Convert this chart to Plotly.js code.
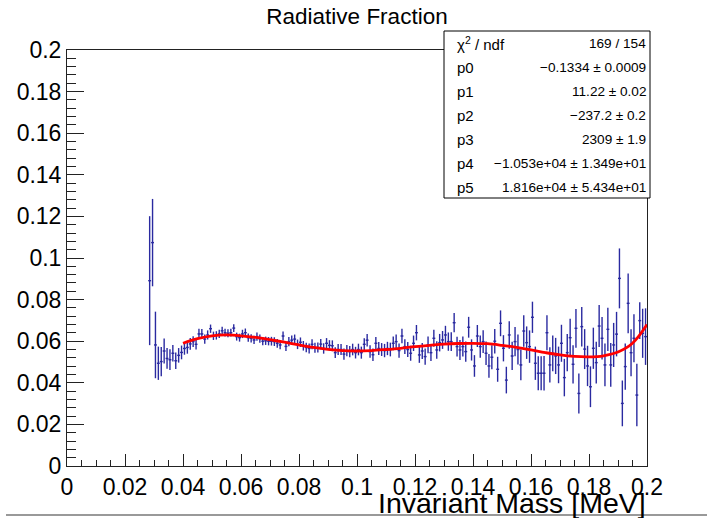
<!DOCTYPE html>
<html>
<head>
<meta charset="utf-8">
<script src="https://cdn.plot.ly/plotly-3.0.1.min.js"></script>
<style>html,body{margin:0;padding:0;background:#fff;}#chart{width:707px;height:518px;}</style>
</head>
<body>
<div id="chart"></div>
<script>
// Histogram bins: first bin centre and bin width (MeV)
const binStart = 0.0285;
const binWidth = 0.001;

// Radiative fraction per bin
const fracValues = [
  0.0891, 0.1074, 0.0582, 0.0494, 0.0502, 0.0553, 0.0517, 0.0511, 0.0542, 0.0506,
  0.0532, 0.0546, 0.0565, 0.0570, 0.0587, 0.0598, 0.0585, 0.0635, 0.0635, 0.0610,
  0.0630, 0.0660, 0.0626, 0.0628, 0.0635, 0.0650, 0.0641, 0.0638, 0.0641, 0.0663,
  0.0622, 0.0617, 0.0635, 0.0641, 0.0617, 0.0614, 0.0606, 0.0622, 0.0612, 0.0600,
  0.0602, 0.0600, 0.0600, 0.0598, 0.0590, 0.0582, 0.0625, 0.0575, 0.0598, 0.0605,
  0.0610, 0.0585, 0.0595, 0.0578, 0.0570, 0.0565, 0.0585, 0.0568, 0.0570, 0.0586,
  0.0565, 0.0590, 0.0580, 0.0578, 0.0545, 0.0560, 0.0560, 0.0538, 0.0555, 0.0550,
  0.0560, 0.0545, 0.0560, 0.0545, 0.0585, 0.0605, 0.0550, 0.0535, 0.0590, 0.0565,
  0.0560, 0.0555, 0.0565, 0.0560, 0.0590, 0.0598, 0.0555, 0.0625, 0.0574, 0.0560,
  0.0542, 0.0590, 0.0641, 0.0534, 0.0553, 0.0526, 0.0582, 0.0545, 0.0614, 0.0558,
  0.0593, 0.0606, 0.0630, 0.0598, 0.0598, 0.0689, 0.0574, 0.0558, 0.0574, 0.0550,
  0.0667, 0.0558, 0.0481, 0.0625, 0.0574, 0.0598, 0.0542, 0.0481, 0.0523, 0.0600,
  0.0465, 0.0686, 0.0566, 0.0413, 0.0630, 0.0529, 0.0598, 0.0560, 0.0486, 0.0649,
  0.0593, 0.0574, 0.0715, 0.0494, 0.0446, 0.0446, 0.0446, 0.0641, 0.0486, 0.0542,
  0.0529, 0.0486, 0.0590, 0.0425, 0.0545, 0.0617, 0.0489, 0.0662, 0.0349, 0.0670,
  0.0562, 0.0481, 0.0381, 0.0566, 0.0497, 0.0673, 0.0614, 0.0486, 0.0657, 0.0486,
  0.0582, 0.0634, 0.0902, 0.0301, 0.0478, 0.0782, 0.0545, 0.0614, 0.0341, 0.0699,
  0.0638, 0.0622
];

// Statistical errors per bin
const fracErrors = [
  0.031, 0.021, 0.016, 0.008, 0.007, 0.006, 0.005, 0.005, 0.004, 0.004,
  0.0035, 0.0033, 0.003, 0.003, 0.0028, 0.0026, 0.0025, 0.0025, 0.0024, 0.0022,
  0.0022, 0.002, 0.002, 0.002, 0.002, 0.0019, 0.0019, 0.0019, 0.0019, 0.0019,
  0.0019, 0.0019, 0.002, 0.002, 0.002, 0.002, 0.002, 0.002, 0.002, 0.002,
  0.002, 0.002, 0.0021, 0.0021, 0.0021, 0.0021, 0.0022, 0.0022, 0.0022, 0.0022,
  0.0022, 0.0023, 0.0023, 0.0023, 0.0023, 0.0024, 0.0024, 0.0024, 0.0024, 0.0025,
  0.0025, 0.0025, 0.0025, 0.0026, 0.0026, 0.0026, 0.0026, 0.0027, 0.0027, 0.0027,
  0.0028, 0.0028, 0.0028, 0.0029, 0.0029, 0.003, 0.003, 0.003, 0.003, 0.0031,
  0.0031, 0.0032, 0.0032, 0.0033, 0.0033, 0.0034, 0.0034, 0.0035, 0.0035, 0.0036,
  0.0036, 0.0037, 0.0037, 0.0038, 0.0038, 0.0039, 0.004, 0.004, 0.0041, 0.0042,
  0.0042, 0.0043, 0.0044, 0.0044, 0.0045, 0.0046, 0.0047, 0.0048, 0.0048, 0.0049,
  0.005, 0.0051, 0.0052, 0.0053, 0.0054, 0.0055, 0.0056, 0.0057, 0.0058, 0.0059,
  0.006, 0.0062, 0.0063, 0.0064, 0.0066, 0.0068, 0.007, 0.0072, 0.0074, 0.0076,
  0.0078, 0.0078, 0.0075, 0.008, 0.0082, 0.0082, 0.0083, 0.0084, 0.0085, 0.0086,
  0.0087, 0.0088, 0.0089, 0.009, 0.009, 0.0091, 0.0092, 0.0093, 0.0096, 0.0095,
  0.0096, 0.0097, 0.0098, 0.0099, 0.010, 0.0101, 0.0102, 0.0103, 0.0104, 0.0105,
  0.0106, 0.0107, 0.0144, 0.011, 0.0111, 0.0144, 0.0113, 0.0115, 0.015, 0.0088,
  0.0118, 0.0136
];

// Fit curve (pol5)
const fitX = [0.040, 0.045, 0.050, 0.055, 0.060, 0.065, 0.070, 0.075, 0.080, 0.085,
              0.090, 0.095, 0.100, 0.105, 0.110, 0.115, 0.120, 0.125, 0.130, 0.135,
              0.140, 0.145, 0.150, 0.155, 0.160, 0.165, 0.170, 0.175, 0.180, 0.185,
              0.190, 0.195, 0.200];
const fitY = [0.0590, 0.0612, 0.0626, 0.0630, 0.0626, 0.0618, 0.0607, 0.0595, 0.0582, 0.0570,
              0.0561, 0.0555, 0.0553, 0.0555, 0.0560, 0.0566, 0.0574, 0.0580, 0.0586, 0.0589,
              0.0590, 0.0588, 0.0580, 0.0570, 0.0558, 0.0545, 0.0534, 0.0527, 0.0525, 0.0530,
              0.0548, 0.0590, 0.0680];

// Stats box
const statLabels = ["χ<sup>2</sup> / ndf", "p0", "p1", "p2", "p3", "p4", "p5"];
const statValues = ["169 / 154", "−0.1334 ± 0.0009", "11.22 ± 0.02", "−237.2 ± 0.2",
                    "2309 ± 1.9", "−1.053e+04 ± 1.349e+01", "1.816e+04 ± 5.434e+01"];

const xTickVals = [0, 0.02, 0.04, 0.06, 0.08, 0.1, 0.12, 0.14, 0.16, 0.18, 0.2];
const xTickText = ["0", "0.02", "0.04", "0.06", "0.08", "0.1", "0.12", "0.14", "0.16", "0.18", "0.2"];
const yTickVals = xTickVals;
const yTickText = xTickText;

// ---- layout geometry (pixels) ----
const W = 707, H = 518;
const L = 67, R = 647, T = 50, B = 466;
const pw = R - L, ph = B - T;
const px2x = p => (p - L) / pw;
const py2y = p => (B - p) / ph;

const FONT = "Liberation Sans, Arial, Helvetica, sans-serif";
const blue = "#2a2aa0";

const dataTrace = {
  type: "scatter", mode: "markers",
  x0: binStart, dx: binWidth, y: fracValues,
  marker: {size: 1, color: blue},
  error_y: {type: "data", array: fracErrors, visible: true, color: blue, thickness: 1.4, width: 0},
  error_x: {type: "constant", value: binWidth / 2, visible: true, color: blue, thickness: 1.4, width: 0},
  hoverinfo: "skip", showlegend: false
};
const fitTrace = {
  type: "scatter", mode: "lines", x: fitX, y: fitY,
  line: {color: "#ff0000", width: 2.8, shape: "spline", smoothing: 1},
  hoverinfo: "skip", showlegend: false
};

const annotations = [];
const rowY0 = 43.5, rowStep = 24;
statLabels.forEach((s, i) => {
  annotations.push({xref: "paper", yref: "paper", x: px2x(455), y: py2y(rowY0 + i * rowStep),
    xanchor: "left", yanchor: "middle", text: s, showarrow: false,
    font: {family: FONT, size: 15, color: "#000"}});
  annotations.push({xref: "paper", yref: "paper", x: px2x(648), y: py2y(rowY0 + i * rowStep),
    xanchor: "right", yanchor: "middle", text: statValues[i], showarrow: false,
    font: {family: FONT, size: 13.6, color: "#000"}});
});
annotations.push({xref: "paper", yref: "paper", x: px2x(648), y: py2y(502.5),
  xanchor: "right", yanchor: "middle", text: "Invariant Mass [MeV]", showarrow: false,
  font: {family: FONT, size: 28.5, color: "#000"}});

const shapes = [
  {type: "rect", xref: "paper", yref: "paper", x0: px2x(444), x1: px2x(650), y0: py2y(198), y1: py2y(31),
   line: {color: "#000", width: 1}, fillcolor: "#fff", layer: "above"},
  {type: "line", xref: "paper", yref: "paper", x0: px2x(6), x1: px2x(707), y0: py2y(515), y1: py2y(515),
   line: {color: "#777", width: 1.5}, layer: "above"}
];

const axisCommon = {
  showgrid: false, zeroline: false, showline: true, linecolor: "#222", linewidth: 1, mirror: true,
  ticks: "inside", tickcolor: "#222", tickwidth: 1
};

const layout = {
  width: W, height: H,
  margin: {l: L, r: W - R, t: T, b: H - B, pad: 0},
  paper_bgcolor: "#fff", plot_bgcolor: "#fff",
  title: {text: "Radiative Fraction", x: 357 / W, xanchor: "center", xref: "container",
          y: 1 - 16.5 / H, yanchor: "middle", yref: "container",
          font: {family: FONT, size: 22.5, color: "#000"}},
  xaxis: Object.assign({}, axisCommon, {
    range: [0, 0.2], tickmode: "array", tickvals: xTickVals, ticktext: xTickText, ticklen: 12,
    tickfont: {family: FONT, size: 23, color: "#000"},
    minor: {dtick: 0.005, tick0: 0, ticks: "inside", ticklen: 6, tickcolor: "#222", tickwidth: 1, showgrid: false}
  }),
  yaxis: Object.assign({}, axisCommon, {
    range: [0, 0.2], tickmode: "array", tickvals: yTickVals, ticktext: yTickText, ticklen: 17,
    tickfont: {family: FONT, size: 23, color: "#000"},
    minor: {dtick: 0.004, tick0: 0, ticks: "inside", ticklen: 9, tickcolor: "#222", tickwidth: 1, showgrid: false}
  }),
  annotations: annotations,
  shapes: shapes
};

Plotly.newPlot("chart", [dataTrace, fitTrace], layout, {displayModeBar: false, staticPlot: true});
</script>
</body>
</html>
